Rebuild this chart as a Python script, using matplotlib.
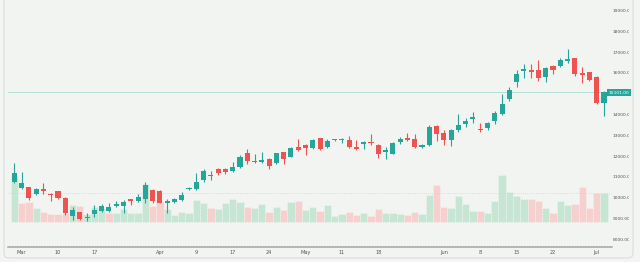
import matplotlib
matplotlib.use("Agg")
import matplotlib.pyplot as plt
from matplotlib.patches import FancyBboxPatch
from matplotlib.transforms import IdentityTransform

# daily candles, Mar -> Jul
opens = [10790, 10505, 10525, 10187, 10442, 10215, 10345, 9995, 9165, 9320,
         9025, 9225, 9400, 9400, 9620, 9620, 9945, 9850, 9975, 10395,
         10345, 9755, 9830, 9910, 10440, 10455, 10875, 11050, 11410, 11410,
         11320, 11510, 12155, 11755, 11740, 11885, 11705, 12205, 12000, 12445,
         12560, 12430, 12880, 12445, 12850, 12790, 12800, 12460, 12590, 12715,
         12560, 12205, 12140, 12715, 12905, 12830, 12460, 12540, 13490, 13120,
         12800, 13280, 13570, 13810, 13340, 13360, 13725, 14050, 14765, 15570,
         16130, 16150, 16180, 15815, 16355, 16355, 16610, 16725, 16020, 16050,
         15825, 14560]
highs = [11680, 11245, 10555, 10475, 10716, 10230, 10370, 10070, 9600, 9360,
         9270, 9650, 9720, 9755, 9865, 9910, 9970, 10200, 10790, 10425,
         10380, 9945, 10000, 10310, 10555, 11200, 11390, 11320, 11440, 11440,
         11750, 12075, 12350, 12125, 12235, 11920, 12190, 12235, 12475, 12830,
         12590, 12830, 12900, 12845, 12870, 12910, 12990, 12800, 12765, 13070,
         12590, 12475, 12715, 12925, 13120, 13085, 12620, 13535, 13535, 13280,
         13310, 14030, 13840, 14160, 13630, 13680, 14190, 14995, 15360, 16160,
         16440, 16440, 16640, 16320, 16400, 16725, 17160, 16755, 16320, 16085,
         15860, 15150]
lows = [10740, 10440, 9913, 10140, 10200, 9880, 9950, 9190, 8950, 8970,
        8925, 9100, 9320, 9355, 9560, 9300, 9670, 9800, 9755, 9755,
        9755, 9300, 9770, 9865, 10390, 10390, 10790, 10875, 11115, 11160,
        11270, 11435, 11645, 11705, 11705, 11390, 11645, 11645, 11965, 12285,
        12075, 12350, 12315, 12400, 12735, 12640, 12400, 12315, 12350, 12560,
        11920, 11870, 12110, 12590, 12740, 12400, 12430, 12510, 12765, 12560,
        12510, 13200, 13410, 13630, 13200, 13280, 13565, 14000, 14670, 15360,
        15800, 15800, 15635, 15570, 15970, 16290, 16485, 15890, 15550, 15650,
        14515, 13965]
closes = [11220, 10715, 9995, 10427, 10370, 10150, 9995, 9275, 9430, 9000,
          9120, 9420, 9610, 9600, 9700, 9830, 9865, 10040, 10620, 9850,
          9780, 9865, 9945, 10150, 10505, 10780, 11320, 11115, 11225, 11270,
          11480, 11965, 11800, 11810, 11830, 11550, 12160, 11870, 12400, 12330,
          12430, 12800, 12350, 12770, 12790, 12845, 12445, 12380, 12715, 12640,
          12125, 12315, 12670, 12845, 12790, 12445, 12540, 13440, 13100, 12800,
          13280, 13520, 13710, 13890, 13265, 13615, 14080, 14530, 15200, 15970,
          16200, 16050, 15800, 16275, 16165, 16645, 16675, 15955, 15940, 15680,
          14560, 15101]
volumes = [46, 19, 20, 14, 10, 7.4, 8.2, 8.6, 16.7, 16,
           7.5, 15, 14.2, 8.6, 9, 12.4, 9, 8.4, 38, 15.8,
           19.5, 12.5, 6.7, 9.4, 8.4, 21.7, 18.7, 13.8, 12.4, 18.3,
           22.7, 20, 15, 13.4, 17.4, 10, 14.7, 11.7, 20, 20.7,
           12, 14.4, 10.8, 16.7, 5.8, 7.4, 10, 6.7, 8.4, 6,
           12.7, 9, 8.4, 7.4, 7, 10, 7.6, 26.7, 36.7, 14.4,
           13.6, 25.5, 17.4, 10.8, 10.8, 8.4, 20.8, 46.5, 29.8, 25.7,
           23, 23.2, 20.7, 13.4, 9, 20.7, 16.8, 18, 35, 14,
           28.8, 28.8]

tick_pos = [1, 6, 11, 20, 25, 30, 35, 40, 45, 50, 59, 64, 69, 74, 80]
tick_labels = ["Mar", "10", "17", "Apr", "9", "17", "24", "May", "11", "18",
               "Jun", "8", "15", "22", "Jul"]
price_ticks = [8000, 9000, 10000, 11000, 12000, 13000, 14000, 15000,
               16000, 17000, 18000, 19000]

UP = "#26a69a"
DOWN = "#ef5350"
VUP = "#c6e6d3"
VDOWN = "#f6d0cf"
BG = "#f1f4f1"

W, H = 640, 262
fig = plt.figure(figsize=(W / 100, H / 100), dpi=100)
fig.patch.set_facecolor("#f3f5f3")

card = FancyBboxPatch((4, 4), 629, 280, boxstyle="round,pad=0,rounding_size=5",
                      transform=IdentityTransform(), facecolor=BG,
                      edgecolor="#d9dfd9", linewidth=0.8, zorder=0)
fig.add_artist(card)

# plot area in pixels: x 8..612, y 0..247 (from top)
left, right, top, bottom = 8, 612, 0, 247
rect = [left / W, (H - bottom) / H, (right - left) / W, (bottom - top) / H]

vax = fig.add_axes(rect)
ax = fig.add_axes(rect, sharex=vax)
ax.patch.set_visible(False)
vax.patch.set_visible(False)

n = len(closes)
idx = list(range(n))

# x: candle i sits at 14.3 + 7.28*i px
ax.set_xlim((left - 14.3) / 7.28, (right - 14.3) / 7.28)
# y: 19000 at 11px, 1000 per 20.8px
ax.set_ylim(19000 - (bottom - 11) / 20.8 * 1000, 19000 + 11 / 20.8 * 1000)

# volume pane at bottom, coloured by close vs previous close
vcol = [VUP if i == 0 or closes[i] >= closes[i - 1] else VDOWN for i in idx]
vax.bar(idx, volumes, width=1.0, color=vcol, edgecolor="white",
        linewidth=0.4, linestyle=":")
vmax = max(volumes)
f0, f1 = (bottom - 221.7) / bottom, (bottom - 175.3) / bottom
span = vmax / (f1 - f0)
vax.set_ylim(-f0 * span, -f0 * span + span)
vax.axhline(volumes[-1], color="#bfe0cb", lw=0.6, ls=":")

# candles
ccol = [UP if c >= o else DOWN for o, c in zip(opens, closes)]
ax.vlines(idx, lows, highs, colors=ccol, linewidth=0.8)
body_lo = [min(o, c) for o, c in zip(opens, closes)]
body_h = [max(abs(c - o), 45) for o, c in zip(opens, closes)]
ax.bar(idx, body_h, bottom=body_lo, width=0.7, color=ccol, linewidth=0)

# last price line
ax.axhline(closes[-1], color="#a9dbd2", lw=0.6, zorder=0)

for a in (ax, vax):
    for s in ("top", "right", "left"):
        a.spines[s].set_visible(False)
    a.set_yticks([])
vax.spines["bottom"].set_visible(False)
ax.spines["bottom"].set_color("#b0b4b0")
ax.spines["bottom"].set_linewidth(1.2)
ax.spines["bottom"].set_linestyle((0, (1, 0.6)))

ax.set_xticks(tick_pos)
ax.set_xticklabels(tick_labels, fontsize=3.6, color="#555555")
ax.tick_params(axis="x", length=0, pad=2.5)
vax.tick_params(axis="x", length=0, labelbottom=False)

# right price scale (the last-price tag hides the label under it)
sax = fig.add_axes([right / W, (H - bottom) / H, 17 / W, (bottom - top) / H])
sax.set_ylim(ax.get_ylim())
sax.set_xlim(0, 1)
sax.axis("off")
for p in price_ticks:
    if abs(p - closes[-1]) < 500:
        continue
    sax.text(0.02, p, f"{p:.2f}", fontsize=3.2, color="#555555",
             va="center", ha="left", clip_on=True)

fig.text(609 / W, 1 - 92.7 / H, f"{closes[-1]:.2f}", fontsize=3.2,
         color="white", va="center", ha="left",
         bbox=dict(boxstyle="square,pad=0.35", fc=UP, ec="none"))

fig.savefig("out.png", dpi=100, facecolor=fig.get_facecolor())
